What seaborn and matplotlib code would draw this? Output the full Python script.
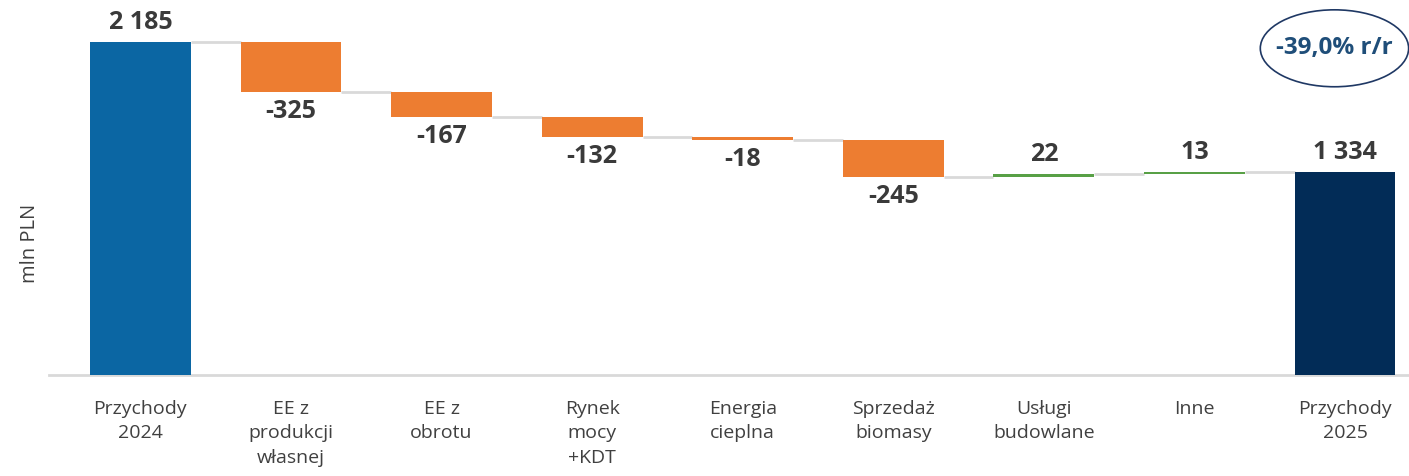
import numpy as np
import pandas as pd
import matplotlib.pyplot as plt
from matplotlib.patches import Ellipse
import seaborn as sns

# Waterfall data (mln PLN)
categories = ["Przychody\n2024", "EE z\nprodukcji\nwłasnej", "EE z\nobrotu", "Rynek\nmocy\n+KDT",
              "Energia\ncieplna", "Sprzedaż\nbiomasy", "Usługi\nbudowlane", "Inne", "Przychody\n2025"]
start_value = 2185
changes = [-325, -167, -132, -18, -245, 22, 13]
end_value = 1334
yoy_label = "-39,0% r/r"

sns.set_theme(style="white")
plt.rcParams['font.family'] = ['Open Sans', 'DejaVu Sans']

# build bottoms / heights for the floating bars
levels = [start_value]
for c in changes:
    levels.append(levels[-1] + c)
bottoms = [0]
heights = [start_value]
for i, c in enumerate(changes):
    bottoms.append(min(levels[i], levels[i + 1]))
    heights.append(abs(c))
bottoms.append(0)
heights.append(end_value)
df = pd.DataFrame({"cat": categories, "h": heights})

colors = ["#0B66A3"] + ["#ED7D31" if c < 0 else "#58A046" for c in changes] + ["#022C57"]

fig = plt.figure(figsize=(14.09, 4.76), dpi=100)
ax = fig.add_axes([0.035, 0.212, 0.965, 0.788])
sns.barplot(data=df, x="cat", y="h", bottom=bottoms, color="#0B66A3", width=0.67, ax=ax,
            errorbar=None, zorder=3)
for p, col in zip(ax.patches, colors):
    p.set_facecolor(col)
    p.set_edgecolor("none")

# connector lines between bars
for i in range(len(categories) - 1):
    lvl = levels[min(i, len(levels) - 1)]
    ax.plot([i + 0.335, i + 1 - 0.335], [lvl, lvl], color="#D9D9D9", lw=2, zorder=2,
            solid_capstyle="butt")

# value labels
vals = [start_value] + changes + [end_value]
for i, v in enumerate(vals):
    txt = f"{v:,}".replace(",", " ")
    if v < 0:
        ax.text(i, bottoms[i] - 45, txt, ha="center", va="top", fontsize=18,
                fontweight="bold", color="#3A3A3A")
    else:
        ax.text(i, bottoms[i] + heights[i] + 45, txt, ha="center", va="bottom", fontsize=18,
                fontweight="bold", color="#3A3A3A")

# yoy ellipse
ax.add_patch(Ellipse((7.93, 2145), width=0.985, height=505, facecolor="none",
                     edgecolor="#1F3864", lw=1.2, clip_on=False, zorder=4))
ax.text(7.93, 2145, yoy_label, ha="center", va="center", fontsize=17.5, fontweight="bold",
        color="#1F4E79")

ax.set_xlim(-0.605, 8.425)
ax.set_ylim(0, 2462)
ax.set_yticks([])
ax.set_xlabel("")
ax.set_ylabel("")
fig.text(30 / 1409, 1 - 243 / 476, "mln PLN", rotation=90, ha="center", va="center",
         fontsize=14.5, color="#404040")
ax.tick_params(axis="x", length=0, pad=18, labelsize=14, labelcolor="#404040")
for lab in ax.get_xticklabels():
    lab.set_linespacing(1.45)
for s in ["top", "right", "left"]:
    ax.spines[s].set_visible(False)
ax.spines["bottom"].set_color("#D9D9D9")
ax.spines["bottom"].set_linewidth(2)

plt.savefig("out.png", dpi=100)
